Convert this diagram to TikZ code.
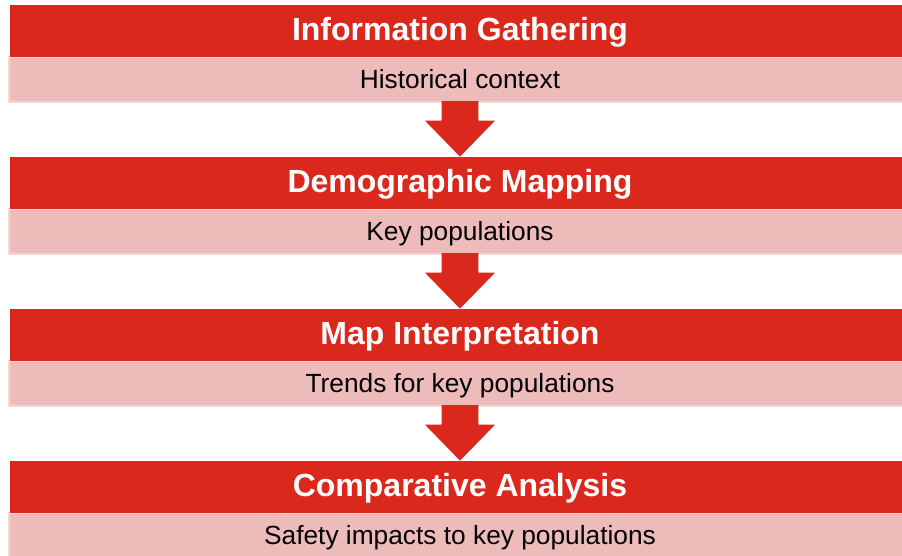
\documentclass[tikz,border=0pt]{standalone}
\usepackage{fontspec}
\setmainfont{Liberation Sans}
\usetikzlibrary{calc}
\definecolor{barred}{HTML}{DA291C}
\definecolor{barpink}{HTML}{EDBBBA}
\definecolor{pinkedge}{HTML}{F4D6D5}
\tikzset{
  headbar/.style={fill=barred, draw=none, minimum width=900pt, minimum height=51.4pt, inner sep=0pt, outer sep=0pt,
    text=white, font=\fontsize{32}{38}\selectfont\bfseries, text height=24pt, text depth=4.6pt},
  subbar/.style={fill=barpink, draw=pinkedge, line width=2pt, minimum width=902pt, minimum height=45.4pt, inner sep=0pt, outer sep=0pt,
    text=black, font=\fontsize{26.3}{31}\selectfont, text height=19pt, text depth=1.2pt},
  flowarrow/.style={fill=barred, draw=none}
}
\begin{document}
\begin{tikzpicture}[x=1pt,y=1pt]
\clip (0,0) rectangle (902,556);
\fill[white] (0,0) rectangle (902,556);
% sub bars
\node[subbar] (p1) at (460,476.6) {Historical context};
\node[subbar] (p2) at (460,324.6) {Key populations};
\node[subbar] (p3) at (460,172.6) {Trends for key populations};
\node[subbar] (p4) at (460,20.6) {Safety impacts to key populations};
% header bars
\node[headbar] (r1) at (460,525) {Information Gathering};
\node[headbar] (r2) at (460,373) {Demographic Mapping};
\node[headbar] (r3) at (460,221) {Map Interpretation};
\node[headbar] (r4) at (460,69) {Comparative Analysis};
% arrows
\foreach \i/\j in {1/2,2/3,3/4}{
  \fill[flowarrow] ($(p\i.south)+(-18.3,1)$) -- ($(p\i.south)+(-18.3,-18.6)$) -- ($(p\i.south)+(-35,-18.6)$)
    -- ($(r\j.north)+(0,0.6)$) -- ($(p\i.south)+(35,-18.6)$) -- ($(p\i.south)+(18.3,-18.6)$) -- ($(p\i.south)+(18.3,1)$) -- cycle;
}
\end{tikzpicture}
\end{document}
